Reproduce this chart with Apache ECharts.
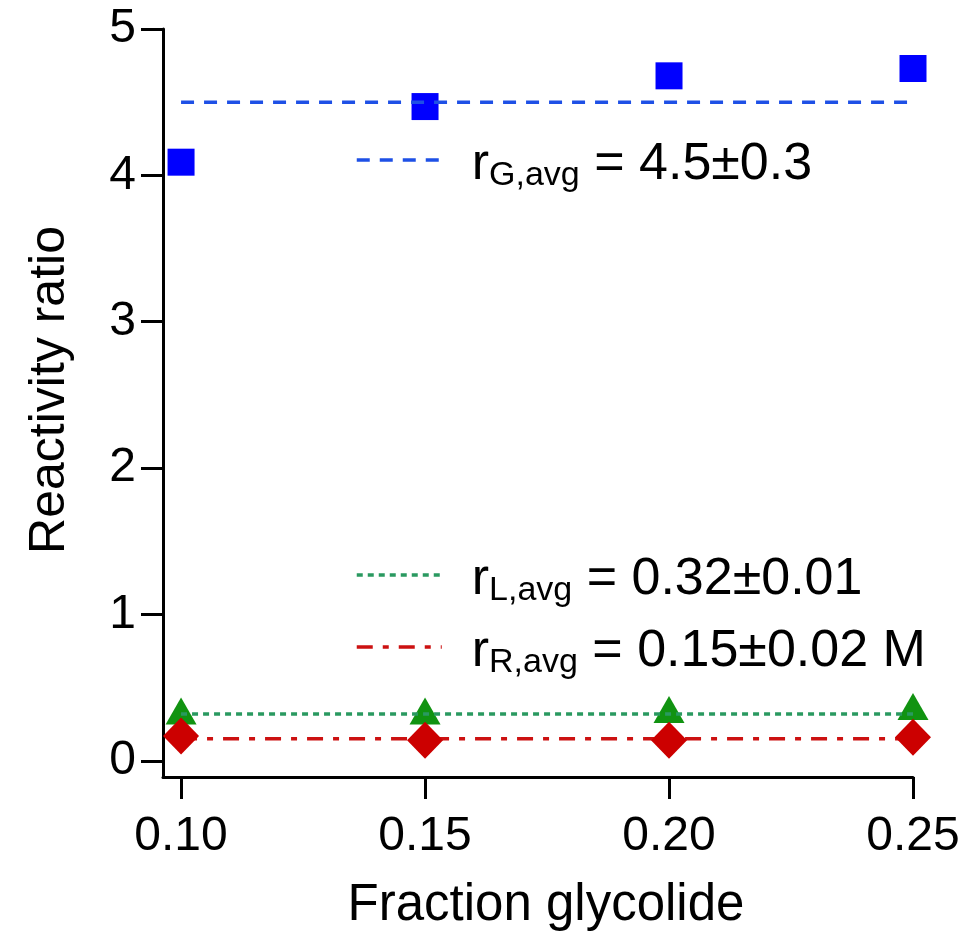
<!DOCTYPE html>
<html>
<head>
<meta charset="utf-8">
<script src="https://cdn.jsdelivr.net/npm/echarts@6/dist/echarts.min.js"></script>
<style>
  html, body { margin: 0; padding: 0; background: #ffffff; }
  #chart { width: 974px; height: 931px; }
</style>
</head>
<body>
<div id="chart"></div>
<script>
// ---- data ----
const fractionGlycolide = [0.10, 0.15, 0.20, 0.25];
const rGValues = [4.09, 4.47, 4.68, 4.73];
const rLValues = [0.34, 0.34, 0.35, 0.37];
const rRValues = [0.17, 0.14, 0.14, 0.16];
const avgG = 4.5;
const avgL = 0.32;
const avgR = 0.15;
const xTickValues = [0.10, 0.15, 0.20, 0.25];
const yTickValues = [0, 1, 2, 3, 4, 5];
const legendLabels = {
  'rG avg': ['G,avg', ' = 4.5±0.3'],
  'rL avg': ['L,avg', ' = 0.32±0.01'],
  'rR avg': ['R,avg', ' = 0.15±0.02 M']
};

const FONT = "'Liberation Sans', Arial, Helvetica, sans-serif";

const pairs = (ys) => fractionGlycolide.map((x, i) => [x, ys[i]]);
const flat = (v) => [[fractionGlycolide[0], v], [fractionGlycolide[fractionGlycolide.length - 1], v]];

const richText = {
  gap: { width: 25 },
  m: { fontSize: 52, fontFamily: FONT, color: '#000', verticalAlign: 'bottom', padding: [12, 0, 2, 0] },
  s: { fontSize: 34, fontFamily: FONT, color: '#000', verticalAlign: 'bottom' }
};
const legendFormatter = (name) => {
  const l = legendLabels[name];
  return '{gap|}{m|r}{s|' + l[0] + '}{m|' + l[1] + '}';
};

const chart = echarts.init(document.getElementById('chart'), null, { renderer: 'canvas' });

const option = {
  animation: false,
  backgroundColor: '#ffffff',
  grid: { left: 163, right: 61, top: 29, bottom: 154, containLabel: false, outerBoundsMode: 'none' },
  xAxis: {
    type: 'value',
    min: 0.0963,
    max: 0.25,
    name: 'Fraction glycolide',
    nameLocation: 'middle',
    nameGap: 103,
    nameTextStyle: { fontSize: 51, fontFamily: FONT, color: '#000', padding: [0, 0, 0, 16] },
    axisLine: { show: true, onZero: false, lineStyle: { color: '#000', width: 3 } },
    axisTick: { show: true, inside: false, length: 22, customValues: xTickValues, lineStyle: { color: '#000', width: 3 } },
    axisLabel: {
      show: true, customValues: xTickValues, margin: 36,
      fontSize: 48, fontFamily: FONT, color: '#000',
      formatter: (v) => v.toFixed(2)
    },
    splitLine: { show: false }
  },
  yAxis: {
    type: 'value',
    min: -0.111,
    max: 5,
    name: 'Reactivity ratio',
    nameLocation: 'middle',
    nameRotate: 90,
    nameGap: 88,
    nameTextStyle: { fontSize: 50, fontFamily: FONT, color: '#000', padding: [0, 0, 0, 26] },
    axisLine: { show: true, onZero: false, lineStyle: { color: '#000', width: 3 } },
    axisTick: { show: true, inside: false, length: 22, customValues: yTickValues, lineStyle: { color: '#000', width: 3 } },
    axisLabel: {
      show: true, customValues: yTickValues, margin: 27,
      fontSize: 48, fontFamily: FONT, color: '#000',
      formatter: (v) => String(Math.round(v))
    },
    splitLine: { show: false }
  },
  legend: [
    {
      data: ['rG avg'],
      left: 355, top: 134, padding: 0,
      itemWidth: 85, itemHeight: 10,
      selectedMode: false,
      itemStyle: { opacity: 0 },
      lineStyle: { width: 3.5 },
      formatter: legendFormatter,
      textStyle: { rich: richText, fontSize: 52, fontFamily: FONT, color: '#000' }
    },
    {
      data: ['rL avg', 'rR avg'],
      orient: 'vertical',
      left: 355, top: 549, padding: 0,
      itemWidth: 85, itemHeight: 10, itemGap: 13,
      selectedMode: false,
      itemStyle: { opacity: 0 },
      lineStyle: { width: 3.5 },
      formatter: legendFormatter,
      textStyle: { rich: richText, fontSize: 52, fontFamily: FONT, color: '#000' }
    }
  ],
  series: [
    {
      name: 'G', type: 'scatter', data: pairs(rGValues),
      symbol: 'rect', symbolSize: 27,
      itemStyle: { color: '#0000ff', opacity: 1 }, z: 2
    },
    {
      name: 'L', type: 'scatter', data: pairs(rLValues),
      symbol: 'triangle', symbolSize: [31, 27],
      itemStyle: { color: '#119311', opacity: 1 }, z: 2
    },
    {
      name: 'R', type: 'scatter', data: pairs(rRValues),
      symbol: 'diamond', symbolSize: [36, 37],
      itemStyle: { color: '#cc0000', opacity: 1 }, z: 3
    },
    {
      name: 'rG avg', type: 'line', data: flat(avgG),
      symbol: 'none', showSymbol: false,
      lineStyle: { color: '#1e50e6', width: 3.5, type: [13, 10] },
      itemStyle: { color: '#1e50e6' }, z: 4
    },
    {
      name: 'rL avg', type: 'line', data: flat(avgL),
      symbol: 'none', showSymbol: false,
      lineStyle: { color: '#2a9960', width: 3.5, type: [6, 5] },
      itemStyle: { color: '#2a9960' }, z: 4
    },
    {
      name: 'rR avg', type: 'line', data: flat(avgR),
      symbol: 'none', showSymbol: false,
      lineStyle: { color: '#cc1111', width: 3.5, type: [16, 10, 6, 10] },
      itemStyle: { color: '#cc1111' }, z: 1
    }
  ]
};

chart.setOption(option);
</script>
</body>
</html>
